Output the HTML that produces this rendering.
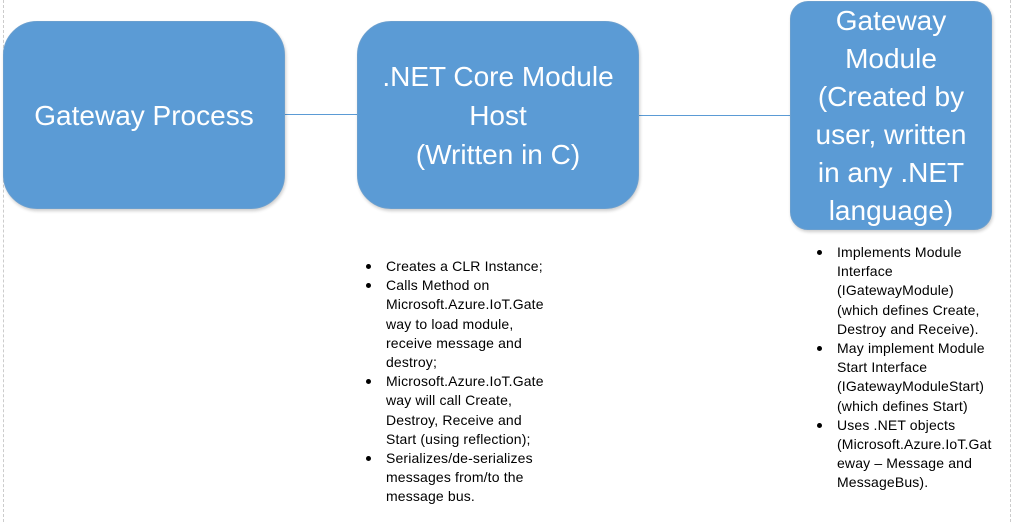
<!DOCTYPE html>
<html><head><style>
body{margin:0;width:1014px;height:522px;background:#fff;position:relative;overflow:hidden;font-family:"Liberation Sans",sans-serif}
.v{position:absolute;top:0;height:522px;border-left:1px dashed #ccc}
.b{position:absolute;background:#5b9bd5;border:1px solid #6a9fcf;border-radius:34px;color:#fff;font-size:28px;text-align:center;display:flex;align-items:center;justify-content:center;box-shadow:1px 2px 3px rgba(0,0,0,.2);box-sizing:border-box;white-space:nowrap}
.l{position:absolute;height:1px;background:#5b9bd5}
.t{position:absolute;font-size:14px;letter-spacing:0.15px;line-height:19.2px;color:#000;white-space:nowrap}
.t div{position:relative;padding-left:20px}
.t div:before{content:"";position:absolute;left:0;top:7px;width:5px;height:5px;border-radius:50%;background:#000}
</style></head><body>
<div class="v" style="left:3px"></div>
<div class="v" style="left:1010px"></div>
<div class="l" style="left:284px;width:74px;top:114px"></div>
<div class="l" style="left:638px;width:153px;top:115px"></div>
<div class="b" style="left:3px;top:21px;width:282px;height:188px;line-height:39px">Gateway Process</div>
<div class="b" style="left:357px;top:21px;width:282px;height:188px;line-height:39px">.NET Core Module<br>Host<br>(Written in C)</div>
<div class="b" style="left:790px;top:1px;width:202px;height:229px;line-height:38px;border-radius:18px">Gateway<br>Module<br>(Created by<br>user, written<br>in any .NET<br>language)</div>
<div class="t" style="left:366px;top:257px">
<div>Creates a CLR Instance;</div>
<div>Calls Method on<br>Microsoft.Azure.IoT.Gate<br>way to load module,<br>receive message and<br>destroy;</div>
<div>Microsoft.Azure.IoT.Gate<br>way will call Create,<br>Destroy, Receive and<br>Start (using reflection);</div>
<div>Serializes/de-serializes<br>messages from/to the<br>message bus.</div>
</div>
<div class="t" style="left:817px;top:243px">
<div>Implements Module<br>Interface<br>(IGatewayModule)<br>(which defines Create,<br>Destroy and Receive).</div>
<div>May implement Module<br>Start Interface<br>(IGatewayModuleStart)<br>(which defines Start)</div>
<div>Uses .NET objects<br>(Microsoft.Azure.IoT.Gat<br>eway – Message and<br>MessageBus).</div>
</div>
</body></html>
